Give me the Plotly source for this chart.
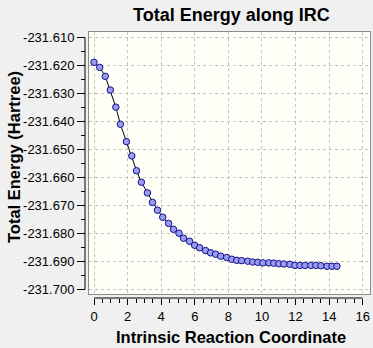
import plotly.graph_objects as go

# IRC coordinate and total energy (Hartree)
irc = [0.00, 0.34, 0.67, 0.97, 1.30, 1.57, 1.93, 2.25, 2.53, 2.82,
       3.18, 3.48, 3.78, 4.09, 4.44, 4.73, 5.06, 5.33, 5.69, 5.99,
       6.29, 6.64, 6.94, 7.24, 7.54, 7.90, 8.20, 8.50, 8.79, 9.15,
       9.45, 9.75, 10.05, 10.41, 10.70, 11.00, 11.30, 11.66, 11.96, 12.26,
       12.56, 12.91, 13.21, 13.51, 13.87, 14.17, 14.46]
energy = [-231.6189, -231.6207, -231.6239, -231.6288, -231.6349, -231.6410, -231.6472,
          -231.6523, -231.6576, -231.6617, -231.6655, -231.6689, -231.6717, -231.6742,
          -231.6764, -231.6785, -231.6799, -231.6817, -231.6828, -231.6842, -231.6851,
          -231.6861, -231.6869, -231.6874, -231.6881, -231.6886, -231.6892, -231.6896,
          -231.6897, -231.6899, -231.6902, -231.6903, -231.6905, -231.6905, -231.6906,
          -231.6908, -231.6909, -231.6910, -231.6914, -231.6914, -231.6914, -231.6914,
          -231.6914, -231.6915, -231.6917, -231.6917, -231.6917]

x_tick_vals = [0, 2, 4, 6, 8, 10, 12, 14, 16]
x_tick_text = ["0", "2", "4", "6", "8", "10", "12", "14", "16"]
y_tick_vals = [-231.61, -231.62, -231.63, -231.64, -231.65, -231.66,
               -231.67, -231.68, -231.69, -231.70]
y_tick_text = ["-231.610", "-231.620", "-231.630", "-231.640", "-231.650",
               "-231.660", "-231.670", "-231.680", "-231.690", "-231.700"]

title_text = "Total Energy along IRC"
x_title = "Intrinsic Reaction Coordinate"
y_title = "Total Energy (Hartree)"

W, H = 373, 348
L, R, T, B = 85, 3, 32, 50
pw, ph = W - L - R, H - T - B

x_range = [-0.28, 16.43]
y_range = [-231.70161, -231.60807]
FONT = "Liberation Sans, Arial, sans-serif"

fig = go.Figure()
fig.add_trace(go.Scatter(
    x=irc, y=energy, mode="lines+markers",
    line=dict(color="black", width=1),
    marker=dict(symbol="circle", size=6.5, color="#9a9cf0",
                line=dict(color="#10108a", width=1)),
    showlegend=False, hoverinfo="skip"))
# invisible trace to register the offset tick axes
fig.add_trace(go.Scatter(x=[x_tick_vals[0]], y=[y_tick_vals[0]], xaxis="x2", yaxis="y2",
                         mode="markers", marker=dict(opacity=0),
                         showlegend=False, hoverinfo="skip"))

grid = dict(showgrid=True, gridcolor="#c4c4c4", gridwidth=1, griddash="3px,3px",
            zeroline=False, showticklabels=False, ticks="",
            showline=True, mirror=True, linecolor="#8c8c8c", linewidth=1)

fig.update_layout(
    width=W, height=H,
    margin=dict(l=L, r=R, t=T, b=B, pad=0),
    paper_bgcolor="#f0f0f0", plot_bgcolor="#fffff7",
    font=dict(family=FONT, size=13, color="black"),
    xaxis=dict(domain=[4.3 / pw, 1], range=x_range, tickmode="array",
               tickvals=x_tick_vals, anchor="y", **grid),
    yaxis=dict(domain=[4 / ph, 1], range=y_range, tickmode="array",
               tickvals=y_tick_vals, anchor="x", **grid),
    xaxis2=dict(overlaying="x", anchor="free", position=0, range=x_range,
                showgrid=False, zeroline=False, showline=False,
                tickmode="array", tickvals=x_tick_vals, ticktext=x_tick_text,
                ticks="outside", ticklen=6, tickcolor="black", tickwidth=1,
                minor=dict(dtick=0.5, tick0=0, ticks="outside", ticklen=4,
                           tickcolor="black", tickwidth=1, showgrid=False),
                tickfont=dict(size=13, family=FONT)),
    yaxis2=dict(overlaying="y", anchor="free", position=0, range=y_range,
                showgrid=False, zeroline=False, showline=False,
                tickmode="array", tickvals=y_tick_vals, ticktext=y_tick_text,
                ticks="outside", ticklen=8, tickcolor="black", tickwidth=1,
                minor=dict(dtick=0.005, tick0=-231.70, ticks="outside", ticklen=4,
                           tickcolor="black", tickwidth=1, showgrid=False),
                tickfont=dict(size=13, family=FONT)),
)

# axis lines spanning only the tick range
fig.add_shape(type="line", xref="paper", yref="y", x0=0, x1=0,
              y0=y_tick_vals[0], y1=y_tick_vals[-1], line=dict(color="black", width=1))
fig.add_shape(type="line", xref="x", yref="paper", x0=x_tick_vals[0], x1=x_tick_vals[-1],
              y0=0, y1=0, line=dict(color="black", width=1))

fig.add_annotation(text="<b>%s</b>" % title_text, xref="paper", yref="paper",
                   x=(231 - L) / pw, y=1 + (T - 15) / ph, xanchor="center", yanchor="middle",
                   showarrow=False, font=dict(size=18, family=FONT))
fig.add_annotation(text="<b>%s</b>" % x_title, xref="paper", yref="paper",
                   x=(231 - L) / pw, y=-(337 - (H - B)) / ph, xanchor="center", yanchor="middle",
                   showarrow=False, font=dict(size=16.5, family=FONT))
fig.add_annotation(text="<b>%s</b>" % y_title, xref="paper", yref="paper",
                   x=-(L - 14) / pw, y=(H - B - 157) / ph, xanchor="center", yanchor="middle",
                   textangle=-90, showarrow=False, font=dict(size=16.5, family=FONT))

fig.write_html("out.html")
